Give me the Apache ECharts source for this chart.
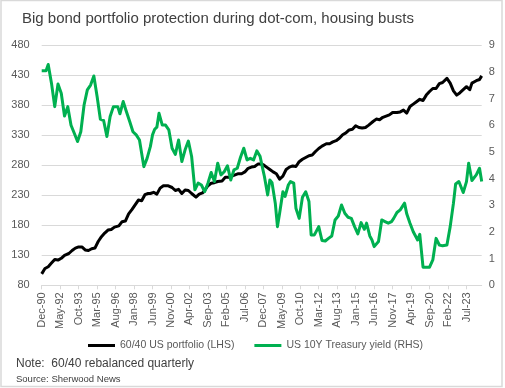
<!DOCTYPE html>
<html><head><meta charset="utf-8">
<script src="https://cdn.jsdelivr.net/npm/echarts@6/dist/echarts.min.js"></script>
<style>html,body{margin:0;padding:0;background:#fff}#c{width:505px;height:388px}</style>
</head><body><div id="c"></div>
<script>
// x tick labels, every 17 months starting Dec-90 (month index 0)
const xTickLabels = ['Dec-90','May-92','Oct-93','Mar-95','Aug-96','Jan-98','Jun-99','Nov-00','Apr-02','Sep-03','Feb-05','Jul-06','Dec-07','May-09','Oct-10','Mar-12','Aug-13','Jan-15','Jun-16','Nov-17','Apr-19','Sep-20','Feb-22','Jul-23'];
const monthsPerTick = 17;
const lastMonth = 405;

// 60/40 US portfolio (LHS), month index since Dec-90
const portfolioMonths = [
  0,3,6,9,12,15,18,21,25,28,
  31,34,37,40,43,46,49,52,55,58,
  61,64,67,71,74,77,80,83,86,89,
  92,95,98,100,103,106,109,112,116,120,
  123,126,129,132,135,138,142,145,148,150,
  153,156,159,162,166,169,172,175,178,181,
  184,187,190,193,196,199,201,204,207,210,
  213,216,219,222,225,228,231,234,237,240,
  243,246,249,252,255,258,262,265,268,271,
  274,277,280,283,286,289,292,295,298,301,
  305,308,311,314,317,320,323,327,330,333,
  336,339,342,345,348,351,354,357,360,363,
  366,369,373,376,379,382,385,388,391,394,
  396,400,403,405];
const portfolioValues = [
  99,108,111,117,123,122,125,130,133,138,
  142,144,144,139,138,141,142,153,161,167,
  172,173,177,179,186,187,199,206,214,222,
  221,231,233,233,235,232,242,246,246,243,
  238,240,233,239,238,233,227,232,234,238,
  246,250,251,253,254,260,260,262,264,266,
  266,269,275,277,278,282,282,281,277,273,
  269,266,257,262,273,277,279,278,286,290,
  293,296,297,303,308,312,316,316,319,321,
  325,331,334,339,340,346,343,342,343,347,
  353,357,356,360,362,364,368,368,369,372,
  367,378,382,386,390,388,397,403,408,408,
  416,418,425,417,404,397,401,406,411,406,
  417,421,423,429];

// US 10Y Treasury yield (RHS), %
const yieldMonths = [
  0,4,6,9,12,15,18,21,24,27,
  30,33,36,39,42,45,48,51,54,57,
  60,63,66,70,72,75,78,81,84,87,
  90,94,97,100,102,104,106,108,111,114,
  117,120,123,126,129,132,135,138,141,144,
  147,150,153,156,159,162,165,168,171,174,
  177,180,183,186,189,192,195,198,201,203,
  205,208,210,212,215,217,219,222,224,227,
  229,232,234,237,240,243,246,248,251,255,
  258,261,264,267,270,273,276,279,282,285,
  288,291,294,297,299,302,304,306,310,313,
  316,319,322,324,327,330,334,336,339,342,
  346,348,351,354,357,360,363,366,369,373,
  376,379,381,384,388,391,393,396,400,403,
  405];
const yieldValues = [
  8.05,8.05,8.28,7.58,6.70,7.55,7.20,6.35,6.70,6.00,
  5.70,5.39,5.76,6.76,7.33,7.51,7.85,7.08,6.23,6.18,
  5.58,6.33,6.70,6.70,6.43,6.89,6.51,6.14,5.76,5.64,
  5.45,4.45,4.76,5.20,5.64,5.85,5.93,6.45,6.01,6.01,
  5.83,5.14,4.91,5.45,4.64,5.08,5.41,4.83,3.58,3.83,
  3.76,3.51,3.83,4.23,3.89,4.58,4.14,4.26,4.48,3.95,
  4.33,4.39,4.80,5.14,4.70,4.76,4.70,5.04,4.84,4.45,
  4.08,3.39,3.95,3.85,3.08,2.20,2.70,3.51,3.33,3.76,
  3.89,3.83,2.89,2.51,3.30,3.51,3.14,1.89,1.89,2.20,
  1.68,1.66,1.76,1.85,2.45,2.60,3.01,2.70,2.55,2.51,
  2.20,1.93,2.35,2.10,2.33,1.85,1.70,1.45,1.64,2.45,
  2.39,2.33,2.39,2.51,2.73,2.83,3.08,2.68,2.33,2.01,
  1.70,1.91,0.68,0.68,0.68,0.95,1.76,1.51,1.48,1.51,
  2.20,3.08,3.80,3.89,3.48,3.89,4.58,3.93,4.14,4.39,
  3.89];

const FONT = "'Liberation Sans', Arial, sans-serif";
const tickValues = xTickLabels.map((_, i) => i * monthsPerTick);
const labelFor = v => xTickLabels[Math.round(v / monthsPerTick)] || '';

const chart = echarts.init(document.getElementById('c'), null, {renderer: 'canvas'});
chart.setOption({
  animation: false,
  backgroundColor: '#fff',
  textStyle: {fontFamily: FONT},
  graphic: [{
    type: 'rect', silent: true,
    shape: {x: 1, y: 0.5, width: 501, height: 386},
    style: {fill: 'none', stroke: '#d9d9d9', lineWidth: 1.5}
  }],
  title: [
    {text: 'Big bond portfolio protection during dot-com, housing busts', left: 17, top: 6,
     textStyle: {fontFamily: FONT, fontSize: 15, fontWeight: 'normal', color: '#404040'}},
    {text: 'Note:  60/40 rebalanced quarterly', left: 11, top: 353,
     textStyle: {fontFamily: FONT, fontSize: 12, fontWeight: 'normal', color: '#404040'}},
    {text: 'Source: Sherwood News', left: 11, top: 369,
     textStyle: {fontFamily: FONT, fontSize: 9.5, fontWeight: 'normal', color: '#404040'}}
  ],
  legend: {
    left: 83, top: 335,
    itemWidth: 27, itemHeight: 3, itemGap: 20, icon: 'rect',
    textStyle: {fontFamily: FONT, fontSize: 10.5, color: '#595959'},
    data: ['60/40 US portfolio (LHS)', 'US 10Y Treasury yield (RHS)']
  },
  grid: {left: 41.7, right: 23.3, top: 45.3, bottom: 102.7, containLabel: false},
  xAxis: {
    type: 'value', min: 0, max: lastMonth,
    axisLine: {show: true, lineStyle: {color: '#d9d9d9', width: 1}},
    axisTick: {show: true, length: 4, lineStyle: {color: '#d9d9d9'}, customValues: tickValues},
    axisLabel: {rotate: 90, margin: 7, fontSize: 11, color: '#595959', fontFamily: FONT,
                customValues: tickValues, formatter: labelFor},
    splitLine: {show: false}
  },
  yAxis: [
    {type: 'value', min: 80, max: 480, interval: 50, position: 'left',
     axisLine: {show: false}, axisTick: {show: false},
     axisLabel: {margin: 12, fontSize: 11, color: '#595959', fontFamily: FONT},
     splitLine: {show: true, lineStyle: {color: '#d9d9d9', width: 1}}},
    {type: 'value', min: 0, max: 9, interval: 1, position: 'right',
     axisLine: {show: false}, axisTick: {show: false},
     axisLabel: {margin: 7, fontSize: 11, color: '#595959', fontFamily: FONT},
     splitLine: {show: false}}
  ],
  series: [
    {name: '60/40 US portfolio (LHS)', type: 'line', yAxisIndex: 0,
     data: portfolioMonths.map((m, i) => [m, portfolioValues[i]]),
     showSymbol: false, symbol: 'none', color: '#000000',
     lineStyle: {color: '#000000', width: 3, join: 'round'}},
    {name: 'US 10Y Treasury yield (RHS)', type: 'line', yAxisIndex: 1,
     data: yieldMonths.map((m, i) => [m, yieldValues[i]]),
     showSymbol: false, symbol: 'none', color: '#00b050',
     lineStyle: {color: '#00b050', width: 3, join: 'round'}}
  ]
});
</script>
</body></html>
